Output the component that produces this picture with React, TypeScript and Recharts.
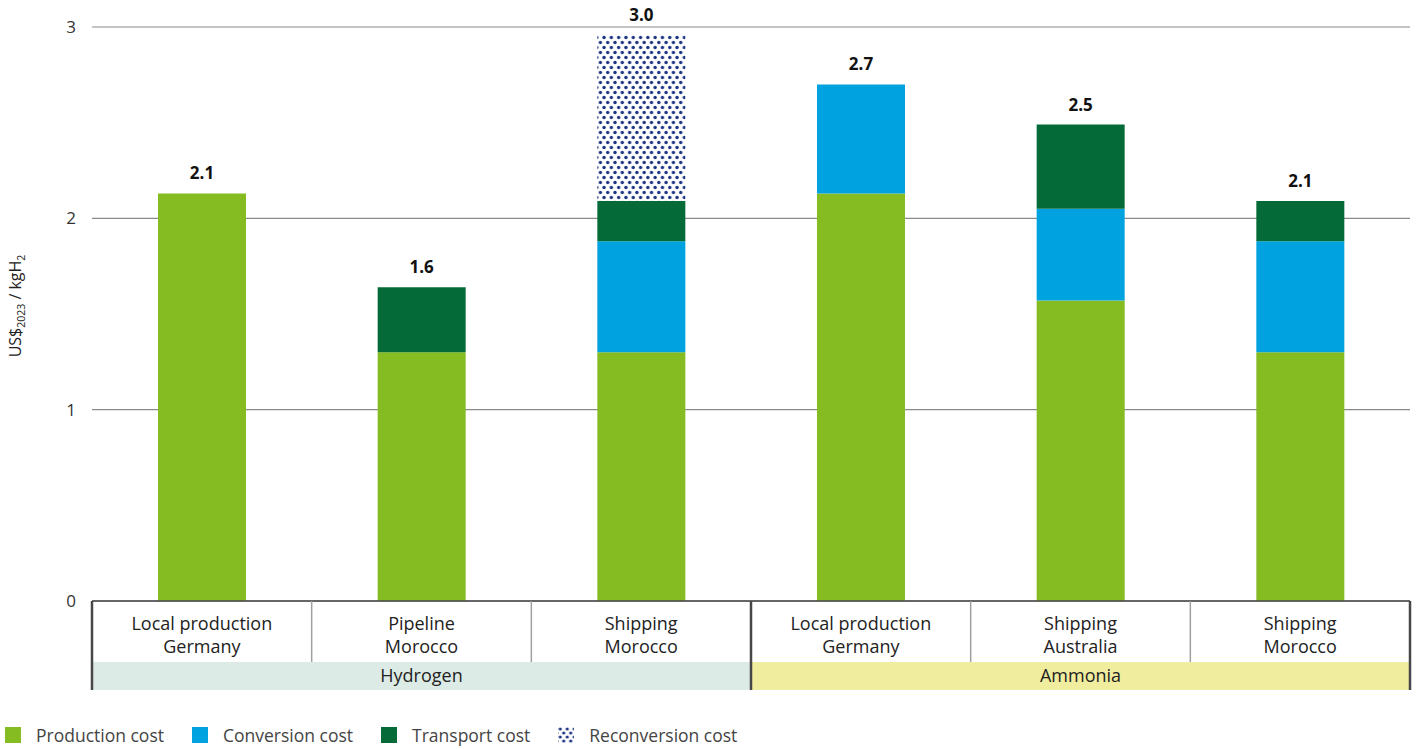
import React from "react";
import {
  BarChart,
  Bar,
  XAxis,
  YAxis,
  CartesianGrid,
  Legend,
  LabelList,
} from "recharts";

const routes = ["Local production", "Pipeline", "Shipping", "Local production", "Shipping", "Shipping"];
const origins = ["Germany", "Morocco", "Morocco", "Germany", "Australia", "Morocco"];
const carriers = ["Hydrogen", "Hydrogen", "Hydrogen", "Ammonia", "Ammonia", "Ammonia"];

const production = [2.13, 1.3, 1.3, 2.13, 1.57, 1.3];
const conversion = [0, 0, 0.58, 0.57, 0.48, 0.58];
const transport = [0, 0.34, 0.21, 0, 0.44, 0.21];
const reconversion = [0, 0, 0.87, 0, 0, 0];

const yTicks = [0, 1, 2, 3];

const series = [
  { key: "production", name: "Production cost", color: "#84bc22" },
  { key: "conversion", name: "Conversion cost", color: "#00a3e0" },
  { key: "transport", name: "Transport cost", color: "#046a38" },
  { key: "reconversion", name: "Reconversion cost", color: "url(#dots)" },
];

const carrierFill: Record<string, string> = {
  Hydrogen: "#ddebe6",
  Ammonia: "#f0ed9f",
};

const data = routes.map((r, i) => ({
  key: `${carriers[i]}|${r}|${origins[i]}`,
  route: r,
  origin: origins[i],
  carrier: carriers[i],
  production: production[i],
  conversion: conversion[i],
  transport: transport[i],
  reconversion: reconversion[i],
  total: production[i] + conversion[i] + transport[i] + reconversion[i],
}));

const W = 1416;
const H = 749;
const M = { top: 27, right: 6, bottom: 0, left: 0 };
const Y_W = 92;
const X_H = 89;
const LEG_H = 59;
const plotW = W - M.left - M.right - Y_W;
const band = plotW / data.length;
const DARK = "#47474a";
const NAVY = "#1b3280";
const FONT = "'Open Sans', 'Noto Sans', sans-serif";

const CategoryTick = (props: any) => {
  const { x, y, index } = props;
  const d = data[index];
  if (!d) return null;
  const left = x - band / 2;
  const right = x + band / 2;
  const firstOfGroup = index === 0 || data[index - 1].carrier !== d.carrier;
  const last = index === data.length - 1;
  let span = 0;
  if (firstOfGroup) {
    for (let j = index; j < data.length && data[j].carrier === d.carrier; j++) span++;
  }
  return (
    <g>
      {firstOfGroup && (
        <g>
          <rect x={left} y={y + 61} width={band * span} height={28} fill={carrierFill[d.carrier]} />
          <text
            x={left + (band * span) / 2}
            y={y + 81}
            textAnchor="middle"
            fontSize={18}
            fill="#222"
            fontFamily={FONT}
          >
            {d.carrier}
          </text>
        </g>
      )}
      <text x={x} y={y + 29} textAnchor="middle" fontSize={18} fill="#222" fontFamily={FONT}>
        {d.route}
      </text>
      <text x={x} y={y + 52} textAnchor="middle" fontSize={18} fill="#222" fontFamily={FONT}>
        {d.origin}
      </text>
      {firstOfGroup ? (
        <line x1={left} x2={left} y1={y} y2={y + 89} stroke={DARK} strokeWidth={2.5} />
      ) : (
        <line x1={left} x2={left} y1={y} y2={y + 61} stroke="#a0a0a0" strokeWidth={1.5} />
      )}
      {last && <line x1={right} x2={right} y1={y} y2={y + 89} stroke={DARK} strokeWidth={2.5} />}
    </g>
  );
};

const TotalLabel = (props: any) => {
  const { x, y, width, value } = props;
  return (
    <text
      x={Number(x) + Number(width) / 2}
      y={Number(y) - 14}
      textAnchor="middle"
      fontSize={17}
      fontWeight={700}
      fill="#111"
      fontFamily={FONT}
    >
      {Number(value).toFixed(1)}
    </text>
  );
};

const YTitle = () => (
  <text
    transform="translate(21, 306) rotate(-90)"
    textAnchor="middle"
    fontSize={16}
    fill="#222"
    fontFamily={FONT}
  >
    US$
    <tspan fontSize={10.5} dy={4}>2023</tspan>
    <tspan dy={-4}> / kgH</tspan>
    <tspan fontSize={10.5} dy={4}>2</tspan>
  </text>
);

const LegendContent = () => (
  <div
    style={{
      height: LEG_H,
      boxSizing: "border-box",
      paddingTop: 30,
      display: "flex",
      alignItems: "center",
      fontFamily: FONT,
      fontSize: 17.5,
      color: "#444",
    }}
  >
    {series.map((s, i) => (
      <div
        key={s.key}
        style={{ display: "flex", alignItems: "center", marginLeft: i === 0 ? 5 : 0, marginRight: 28 }}
      >
        <svg width={16} height={16} style={{ marginRight: 15 }}>
          <defs>
            <pattern id="dots-legend" width={7} height={8} patternUnits="userSpaceOnUse" x={0.5} y={0}>
              <circle cx={1.75} cy={2} r={1.6} fill={NAVY} />
              <circle cx={5.25} cy={6} r={1.6} fill={NAVY} />
            </pattern>
          </defs>
          <rect width={16} height={16} fill={s.key === "reconversion" ? "url(#dots-legend)" : s.color} />
        </svg>
        <span>{s.name}</span>
      </div>
    ))}
  </div>
);

export default function App() {
  return (
    <div style={{ position: "absolute", left: 0, top: 0, background: "#fff" }}>
      <BarChart width={W} height={H} data={data} margin={M} barSize={88}>
        <defs>
          <pattern id="dots" width={7.3} height={10} patternUnits="userSpaceOnUse">
            <rect width={7.3} height={10} fill="#fff" />
            <circle cx={1.8} cy={2.5} r={1.7} fill={NAVY} />
            <circle cx={5.45} cy={7.5} r={1.7} fill={NAVY} />
          </pattern>
        </defs>
        <CartesianGrid vertical={false} stroke="#8a8a8a" strokeWidth={1.2} />
        <YAxis
          width={Y_W}
          domain={[0, 3]}
          ticks={yTicks}
          axisLine={false}
          tickLine={false}
          tickSize={0}
          tickMargin={16}
          tick={{ fontSize: 17, fill: "#333", fontFamily: FONT }}
          label={<YTitle />}
        />
        <XAxis
          dataKey="key"
          height={X_H}
          interval={0}
          tickLine={false}
          tickSize={0}
          tickMargin={0}
          axisLine={{ stroke: DARK, strokeWidth: 1.5 }}
          tick={<CategoryTick />}
        />
        <XAxis xAxisId="total" dataKey="key" hide />
        <Legend verticalAlign="bottom" align="left" content={<LegendContent />} />
        {series.map((s) => (
          <Bar
            key={s.key}
            dataKey={s.key}
            name={s.name}
            stackId="cost"
            fill={s.color}
            isAnimationActive={false}
          />
        ))}
        <Bar
          dataKey="total"
          xAxisId="total"
          fill="none"
          legendType="none"
          isAnimationActive={false}
        >
          <LabelList dataKey="total" content={<TotalLabel />} />
        </Bar>
      </BarChart>
    </div>
  );
}
